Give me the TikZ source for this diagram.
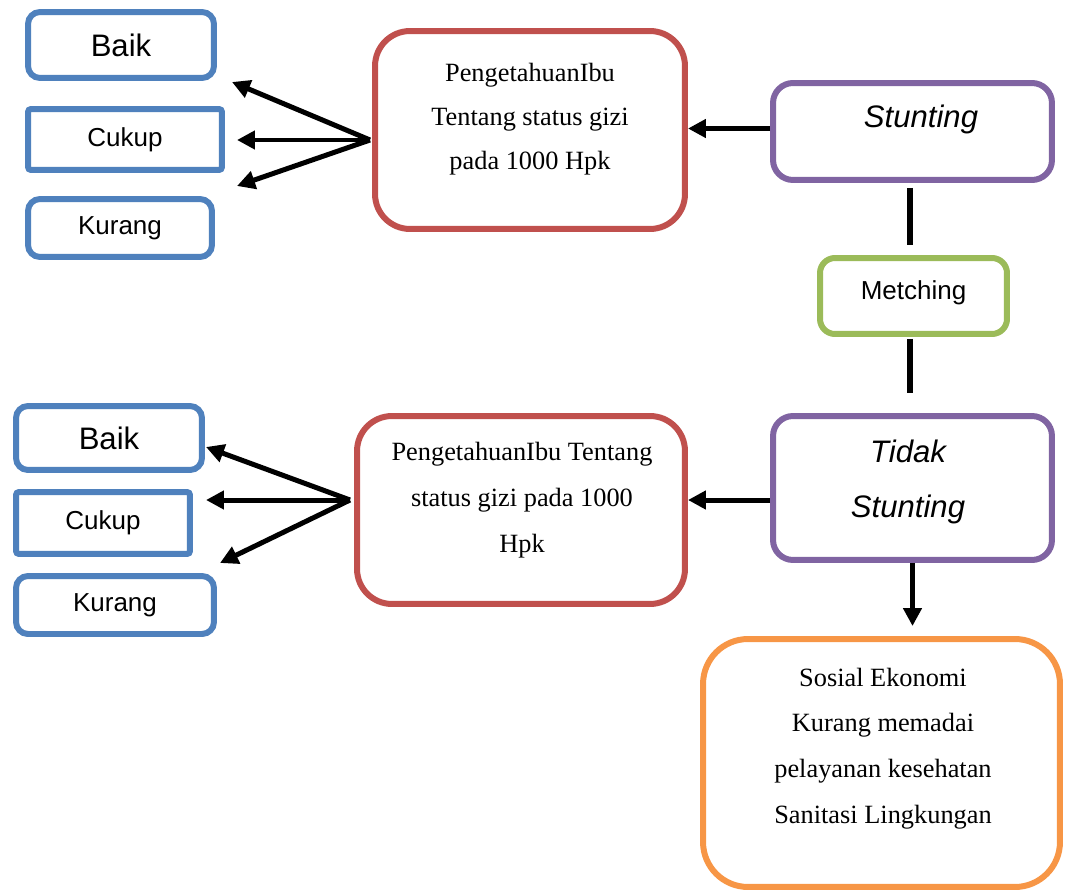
\documentclass[tikz,border=0pt]{standalone}
\usepackage{fontspec}
\setmainfont{Liberation Sans}
\newfontfamily\timesfont{Liberation Serif}
\usetikzlibrary{arrows.meta, calc}
\definecolor{boxblue}{RGB}{79,129,189}
\definecolor{boxred}{RGB}{192,80,77}
\definecolor{boxpurple}{RGB}{128,100,162}
\definecolor{boxgreen}{RGB}{155,187,89}
\definecolor{boxorange}{RGB}{247,150,70}
\newcommand\lblbig{\fontsize{17.7}{21}\selectfont}
\newcommand\lblsmall{\fontsize{14.8}{18}\selectfont}
\tikzset{
    levelbox/.style={draw=boxblue, line width=0.12cm, rounded corners=0.24cm, fill=white},
    squarebox/.style={draw=boxblue, line width=0.12cm, rounded corners=0.06cm, fill=white},
    knowbox/.style={draw=boxred, line width=0.12cm, rounded corners=0.7cm},
    groupbox/.style={draw=boxpurple, line width=0.12cm, rounded corners=0.4cm},
    matchbox/.style={draw=boxgreen, line width=0.12cm, rounded corners=0.3cm},
    factorbox/.style={draw=boxorange, line width=0.12cm, rounded corners=0.9cm},
    arr/.style={line width=0.1cm, -{Triangle[length=0.36cm, width=0.36cm]}},
    link/.style={line width=0.12cm},
}
\begin{document}
\begin{tikzpicture}[x=0.02cm, y=-0.02cm]
    \useasboundingbox (0, 0) rectangle (1065, 892);

    % upper half
    \node[levelbox, minimum width=3.72cm, minimum height=1.32cm, font=\lblbig] (baikA) at (121, 45){Baik};
    \node[squarebox, minimum width=3.88cm, minimum height=1.22cm, font=\lblsmall] (cukupA) at (125, 139.5){Cukup};
    \node[levelbox, minimum width=3.68cm, minimum height=1.16cm, font=\lblsmall] (kurangA) at (120, 228){Kurang};
    \node[knowbox, minimum width=6.2cm, minimum height=3.96cm] (pengA) at (530, 130){};
    \node[align=center, font=\timesfont\fontsize{15}{25}\selectfont] (pengAtext) at (530, 119){PengetahuanIbu\\Tentang status gizi\\pada 1000 Hpk};
    \node[groupbox, minimum width=5.58cm, minimum height=1.94cm] (stunt) at (912.5, 131.5){};
    \node[font=\lblbig\itshape] (stunttext) at (921, 119){Stunting};

    \node[matchbox, minimum width=3.74cm, minimum height=1.52cm, font=\lblsmall] (metch) at (913.5, 296){\raisebox{0.24cm}{Metching}};

    % lower half
    \node[groupbox, minimum width=5.58cm, minimum height=2.88cm] (tidak) at (912.5, 488){};
    \node[align=center, font=\fontsize{17.7}{31}\selectfont\itshape] (tidaktext) at (908, 482){Tidak\\Stunting};
    \node[knowbox, minimum width=6.56cm, minimum height=3.76cm] (pengB) at (521, 510){};
    \node[align=center, font=\timesfont\fontsize{15}{26}\selectfont] (pengBtext) at (522, 500){PengetahuanIbu Tentang\\status gizi pada 1000\\Hpk};
    \node[levelbox, minimum width=3.72cm, minimum height=1.28cm, font=\lblbig] (baikB) at (109, 438){Baik};
    \node[squarebox, minimum width=3.48cm, minimum height=1.24cm, font=\lblsmall] (cukupB) at (103, 523){Cukup};
    \node[levelbox, minimum width=3.96cm, minimum height=1.16cm, font=\lblsmall] (kurangB) at (115, 605){Kurang};
    \node[factorbox, minimum width=7.14cm, minimum height=4.96cm] (sosial) at (881.5, 763){};
    \node[align=center, font=\timesfont\fontsize{15}{26}\selectfont] (sosialtext) at (883, 748.5){Sosial Ekonomi\\Kurang memadai\\pelayanan kesehatan\\Sanitasi Lingkungan};

    % fan points and arrow ends
    \coordinate (fanA) at (370, 140);
    \coordinate (toBaikA) at (232, 82);
    \coordinate (toCukupA) at (237, 140);
    \coordinate (toKurangA) at (237, 186);
    \coordinate (fanB) at (350, 500);
    \coordinate (toBaikB) at (206, 447);
    \coordinate (toCukupB) at (206, 500);
    \coordinate (toKurangB) at (220, 563);

    \draw[arr] (fanA) -- (toBaikA);
    \draw[arr] (fanA) -- (toCukupA);
    \draw[arr] (fanA) -- (toKurangA);
    \draw[arr] (fanB) -- (toBaikB);
    \draw[arr] (fanB) -- (toCukupB);
    \draw[arr] (fanB) -- (toKurangB);

    \draw[arr] ($(stunt.west)+(0, -3)$) -- ($(stunt.west -| pengA.east)+(0, -3)$);
    \draw[arr] ($(tidak.west)+(0, 12)$) -- ($(tidak.west -| pengB.east)+(0, 12)$);
    \draw[link, shorten <=0.1cm, shorten >=0.2cm] ($(stunt.south)+(-3, 0)$) -- ($(stunt.south |- metch.north)+(-3, 0)$);
    \draw[link, shorten <=0.04cm, shorten >=0.4cm] ($(tidak.north |- metch.south)+(-3, 0)$) -- ($(tidak.north)+(-3, 0)$);
    \draw[arr, shorten >=0.2cm] (tidak.south) -- (tidak.south |- sosial.north);
\end{tikzpicture}
\end{document}
